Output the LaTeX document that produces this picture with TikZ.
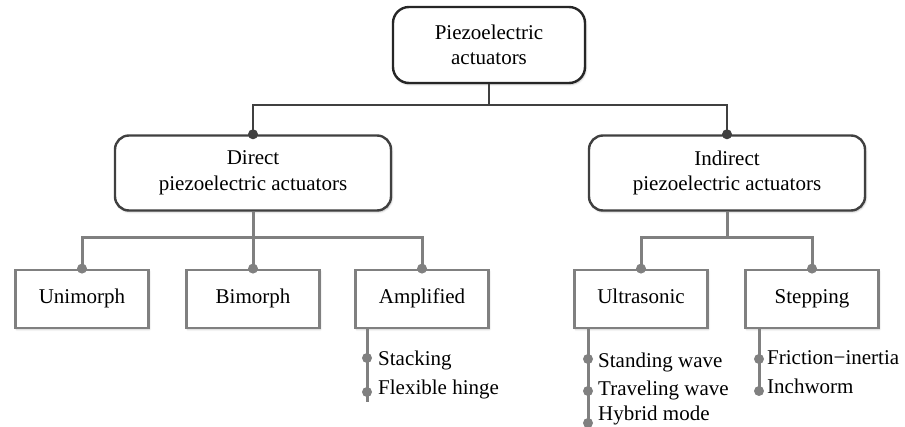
\documentclass[tikz,border=0pt]{standalone}
\usepackage{fontspec}
\setmainfont{Liberation Serif}
\usetikzlibrary{shadows.blur}
\begin{document}
\begin{tikzpicture}[x=1pt,y=-1pt,
  lbl/.style={font=\fontsize{21}{25.5}\selectfont, align=center},
  rootbox/.style={lbl, draw=black!85, line width=2.4pt, fill=white,
    rounded corners=16pt, minimum width=192pt, minimum height=76pt, inner sep=0pt,
    blur shadow={shadow blur steps=6, shadow xshift=1pt, shadow yshift=-1.5pt, shadow opacity=25}},
  midbox/.style={lbl, draw=black!75, line width=2.4pt, fill=white,
    rounded corners=14pt, minimum width=276pt, minimum height=75pt, inner sep=0pt,
    blur shadow={shadow blur steps=6, shadow xshift=1pt, shadow yshift=-1.5pt, shadow opacity=25}},
  leafbox/.style={lbl, draw=black!50, line width=2.8pt, fill=white,
    minimum width=133pt, minimum height=58pt, inner sep=0pt,
    text height=14pt, text depth=4.5pt,
    blur shadow={shadow blur steps=6, shadow xshift=1pt, shadow yshift=-1.5pt, shadow opacity=20}},
  item/.style={font=\fontsize{21}{25}\selectfont, anchor=west, inner sep=0pt},
  darkline/.style={draw=black!75, line width=2.4pt},
  greyline/.style={draw=black!50, line width=3pt},
  darkdot/.style={fill=black!75},
  greydot/.style={fill=black!50}
]
\useasboundingbox (0,0) rectangle (905,427);

% tree nodes
\node[rootbox] (root) at (489,45) {Piezoelectric\\actuators};
\node[midbox] (direct) at (253,173) {Direct\\piezoelectric actuators};
\node[midbox] (indirect) at (727,173) {Indirect\\piezoelectric actuators};
\node[leafbox] (uni) at (82,299) {Unimorph};
\node[leafbox] (bi) at (253,299) {Bimorph};
\node[leafbox] (amp) at (422,299) {Amplified};
\node[leafbox] (ultra) at (641,299) {Ultrasonic};
\node[leafbox] (step) at (812,299) {Stepping};

% first level bus
\coordinate (j1) at (root.south |- 0,105);
\draw[darkline] (root.south) -- (j1);
\draw[darkline] (direct.north) |- (j1) -| (indirect.north);
\fill[darkdot] (direct.north) circle (5pt);
\fill[darkdot] (indirect.north) circle (5pt);

% second level buses
\coordinate (j2) at (direct.south |- 0,238);
\coordinate (j3) at (indirect.south |- 0,238);
\draw[greyline] (direct.south) -- (j2);
\draw[greyline] (uni.north) |- (j2) -| (amp.north);
\draw[greyline] (bi.north) -- (j2);
\draw[greyline] (indirect.south) -- (j3);
\draw[greyline] (ultra.north) |- (j3) -| (step.north);
\foreach \n in {uni,bi,amp,ultra,step} \fill[greydot] (\n.north) circle (5pt);

% item lists
\node[item] (stack) at (378,360) {Stacking};
\node[item] (flex) at (378,389) {Flexible hinge};
\node[item] (stand) at (598,362) {Standing wave};
\node[item] (trav) at (598,390) {Traveling wave};
\node[item] (hyb) at (598,415) {Hybrid mode};
\node[item] (fric) at (767,358) {Friction−inertia};
\node[item] (inch) at (767,386) {Inchworm};

\coordinate (a0) at ([xshift=-55pt]amp.south);
\coordinate (a1) at (a0 |- 0,358);
\coordinate (a2) at (a0 |- 0,392);
\coordinate (a3) at (a0 |- 0,402);
\draw[greyline] (a0) -- (a3);
\fill[greydot] (a1) circle (5pt) (a2) circle (5pt);

\coordinate (u0) at ([xshift=-53pt]ultra.south);
\coordinate (u1) at (u0 |- 0,359);
\coordinate (u2) at (u0 |- 0,391);
\coordinate (u3) at (u0 |- 0,423);
\coordinate (u4) at (u0 |- 0,427);
\draw[greyline] (u0) -- (u4);
\fill[greydot] (u1) circle (5pt) (u2) circle (5pt) (u3) circle (5pt);

\coordinate (s0) at ([xshift=-53pt]step.south);
\coordinate (s1) at (s0 |- 0,359);
\coordinate (s2) at (s0 |- 0,391);
\draw[greyline] (s0) -- (s2);
\fill[greydot] (s1) circle (5pt) (s2) circle (5pt);
\end{tikzpicture}
\end{document}
